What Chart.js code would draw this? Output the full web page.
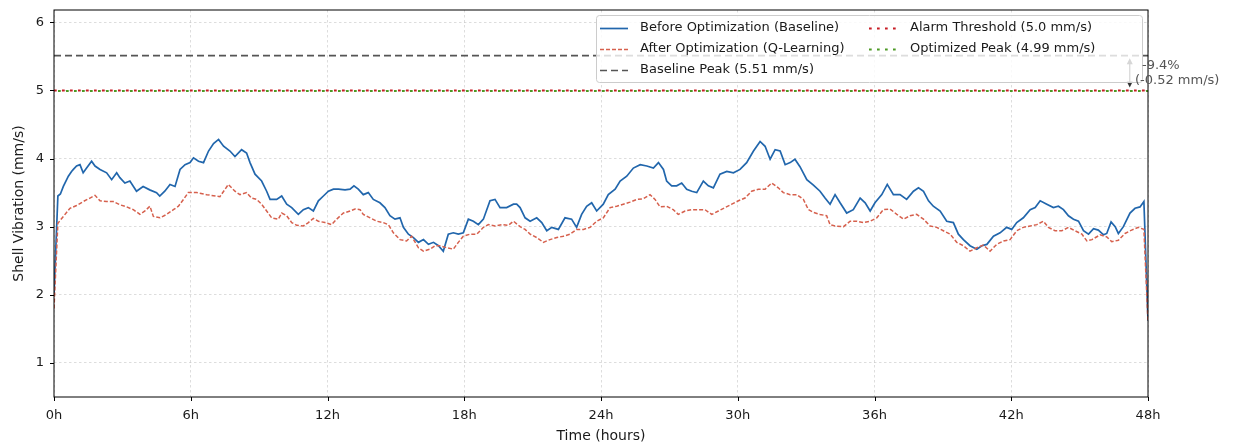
<!DOCTYPE html>
<html>
<head>
<meta charset="utf-8">
<script src="https://cdn.jsdelivr.net/npm/chart.js@4.4.1/dist/chart.umd.min.js"></script>
<style>
  html, body { margin: 0; padding: 0; background: #ffffff; }
  #wrap { width: 1233px; height: 444px; }
</style>
</head>
<body>
<div id="wrap"><canvas id="chart" width="1233" height="444"></canvas></div>
<script>
// Shell vibration over a 48 h run, sampled along the record (hours, mm/s)
const beforeTimes = [
  0.00, 0.17, 0.28, 0.41, 0.63, 0.77, 0.85, 0.99, 1.14, 1.28, 1.43, 1.65, 1.80, 2.02, 2.31, 2.53, 2.75, 2.89,
  3.11, 3.33, 3.62, 3.91, 4.20, 4.50, 4.64, 4.86, 5.09, 5.31, 5.53, 5.75, 5.97, 6.12, 6.34, 6.56, 6.78, 7.00,
  7.22, 7.44, 7.72, 7.94, 8.23, 8.45, 8.60, 8.82, 9.11, 9.33, 9.48, 9.77, 9.99, 10.21, 10.43, 10.72, 10.94,
  11.16, 11.38, 11.60, 11.82, 12.04, 12.26, 12.48, 12.77, 12.99, 13.16, 13.35, 13.57, 13.79, 14.01, 14.30,
  14.52, 14.74, 14.96, 15.18, 15.33, 15.55, 15.77, 15.99, 16.21, 16.43, 16.65, 16.87, 17.08, 17.30, 17.52,
  17.74, 17.96, 18.18, 18.40, 18.62, 18.84, 19.13, 19.35, 19.57, 19.86, 20.16, 20.30, 20.45, 20.67, 20.89,
  21.18, 21.40, 21.62, 21.84, 22.13, 22.42, 22.71, 22.93, 23.15, 23.37, 23.59, 23.81, 24.10, 24.32, 24.62,
  24.84, 25.13, 25.42, 25.72, 26.01, 26.30, 26.52, 26.74, 26.88, 27.10, 27.32, 27.54, 27.76, 27.98, 28.20,
  28.49, 28.71, 28.93, 29.22, 29.52, 29.81, 30.10, 30.39, 30.69, 30.98, 31.20, 31.42, 31.64, 31.86, 32.08,
  32.30, 32.51, 32.73, 33.03, 33.32, 33.61, 33.83, 34.05, 34.27, 34.49, 34.78, 35.07, 35.37, 35.59, 35.81,
  36.02, 36.32, 36.56, 36.83, 37.12, 37.41, 37.71, 37.93, 38.15, 38.37, 38.58, 38.88, 39.17, 39.46, 39.68,
  39.90, 40.19, 40.49, 40.71, 40.93, 41.22, 41.51, 41.80, 42.02, 42.24, 42.53, 42.83, 43.05, 43.27, 43.56,
  43.85, 44.07, 44.29, 44.51, 44.73, 44.95, 45.17, 45.39, 45.61, 45.82, 46.05, 46.19, 46.38, 46.56, 46.70,
  46.92, 47.21, 47.43, 47.65, 47.82, 48.00
];
const beforeVals = [
  2.00, 3.45, 3.48, 3.59, 3.74, 3.81, 3.84, 3.89, 3.91, 3.79, 3.86, 3.96, 3.89, 3.84, 3.79, 3.69, 3.79, 3.72,
  3.64, 3.67, 3.52, 3.59, 3.54, 3.50, 3.45, 3.52, 3.62, 3.59, 3.84, 3.91, 3.94, 4.01, 3.96, 3.94, 4.11, 4.22,
  4.28, 4.18, 4.11, 4.03, 4.13, 4.08, 3.94, 3.77, 3.67, 3.52, 3.40, 3.40, 3.45, 3.33, 3.28, 3.18, 3.25,
  3.28, 3.23, 3.38, 3.45, 3.52, 3.55, 3.55, 3.54, 3.55, 3.60, 3.55, 3.47, 3.50, 3.40, 3.35,
  3.28, 3.16, 3.11, 3.13, 2.99, 2.89, 2.84, 2.77, 2.81, 2.74, 2.77, 2.72, 2.64, 2.89, 2.91,
  2.89, 2.91, 3.11, 3.08, 3.03, 3.11, 3.38, 3.40, 3.28, 3.28, 3.33, 3.33, 3.28, 3.13, 3.08,
  3.13, 3.06, 2.94, 2.99, 2.96, 3.13, 3.11, 2.99, 3.18, 3.30, 3.35, 3.23, 3.33, 3.47, 3.55,
  3.67, 3.74, 3.86, 3.91, 3.89, 3.86, 3.94, 3.84, 3.67, 3.60, 3.60, 3.64, 3.55, 3.52, 3.50,
  3.67, 3.60, 3.57, 3.77, 3.81, 3.79, 3.84, 3.94, 4.11, 4.25, 4.18, 3.99, 4.13, 4.11, 3.91,
  3.94, 3.99, 3.88, 3.69, 3.61, 3.52, 3.42, 3.33, 3.47, 3.35, 3.20, 3.25, 3.42, 3.35, 3.23,
  3.35, 3.47, 3.62, 3.47, 3.47, 3.40, 3.52, 3.57, 3.52, 3.38, 3.30, 3.23, 3.08, 3.06, 2.89,
  2.81, 2.72, 2.67, 2.72, 2.74, 2.86, 2.91, 2.99, 2.96, 3.06, 3.13, 3.25, 3.28, 3.38, 3.33,
  3.28, 3.30, 3.25, 3.16, 3.11, 3.08, 2.94, 2.89, 2.97, 2.95, 2.88, 2.90, 3.07, 3.00, 2.90,
  3.00, 3.20, 3.27, 3.29, 3.37, 1.62
];
const afterTimes = [
  0.00, 0.17, 0.41, 0.70, 0.99, 1.29, 1.58, 1.80, 2.02, 2.31, 2.60, 2.90, 3.19, 3.48, 3.77, 3.99, 4.21, 4.36,
  4.65, 4.94, 5.24, 5.46, 5.68, 5.89, 6.26, 6.70, 7.28, 7.65, 7.94, 8.16, 8.45, 8.67, 8.89, 9.11, 9.33, 9.55,
  9.84, 9.99, 10.21, 10.43, 10.65, 10.94, 11.16, 11.38, 11.60, 11.89, 12.18, 12.40, 12.70, 12.99, 13.21,
  13.43, 13.57, 13.87, 14.16, 14.45, 14.67, 14.89, 15.18, 15.47, 15.69, 15.99, 16.21, 16.50, 16.72, 16.94,
  17.23, 17.52, 17.74, 17.96, 18.25, 18.55, 18.84, 19.06, 19.35, 19.64, 19.94, 20.16, 20.45, 20.67, 20.89,
  21.18, 21.47, 21.76, 22.06, 22.35, 22.64, 22.93, 23.23, 23.52, 23.81, 24.10, 24.40, 24.69, 24.98, 25.27,
  25.57, 25.86, 26.15, 26.37, 26.59, 26.88, 27.17, 27.39, 27.69, 27.98, 28.27, 28.56, 28.86, 29.15, 29.44,
  29.74, 30.03, 30.32, 30.61, 30.91, 31.20, 31.49, 31.78, 32.00, 32.30, 32.59, 32.88, 33.10, 33.32, 33.61,
  33.90, 34.05, 34.27, 34.64, 34.93, 35.22, 35.52, 35.81, 36.10, 36.39, 36.68, 36.98, 37.27, 37.56, 37.85,
  38.15, 38.44, 38.73, 39.02, 39.32, 39.61, 39.90, 40.19, 40.49, 40.78, 41.07, 41.36, 41.66, 41.95, 42.24,
  42.53, 42.83, 43.12, 43.41, 43.63, 43.92, 44.22, 44.51, 44.80, 45.10, 45.32, 45.54, 45.90, 46.19, 46.41,
  46.70, 46.99, 47.28, 47.58, 47.82, 48.00
];
const afterVals = [
  1.80, 3.05, 3.15, 3.27, 3.31, 3.37, 3.42, 3.46, 3.38, 3.37, 3.37, 3.32, 3.29, 3.25, 3.18, 3.23, 3.30, 3.15,
  3.13, 3.18, 3.25, 3.30, 3.40, 3.50, 3.50, 3.47, 3.44, 3.62, 3.52, 3.47, 3.50, 3.42, 3.40, 3.33, 3.23, 3.13,
  3.11, 3.20, 3.16, 3.06, 3.02, 3.01, 3.06, 3.12, 3.08, 3.06, 3.03, 3.11, 3.20, 3.23, 3.26,
  3.25, 3.18, 3.13, 3.08, 3.06, 3.03, 2.91, 2.81, 2.79, 2.86, 2.69, 2.64, 2.67, 2.72, 2.72,
  2.69, 2.67, 2.77, 2.86, 2.89, 2.89, 2.99, 3.03, 3.01, 3.03, 3.02, 3.08, 3.00, 2.96, 2.89,
  2.84, 2.77, 2.81, 2.84, 2.86, 2.89, 2.96, 2.96, 2.99, 3.08, 3.13, 3.28, 3.30, 3.33, 3.36,
  3.40, 3.41, 3.47, 3.40, 3.29, 3.30, 3.25, 3.18, 3.23, 3.25, 3.25, 3.25, 3.18, 3.23, 3.28,
  3.33, 3.38, 3.42, 3.52, 3.55, 3.55, 3.64, 3.57, 3.50, 3.47, 3.47, 3.40, 3.25, 3.21, 3.18,
  3.16, 3.03, 3.01, 3.00, 3.08, 3.08, 3.06, 3.08, 3.13, 3.25, 3.26, 3.18, 3.11, 3.16, 3.18,
  3.11, 3.01, 2.99, 2.94, 2.89, 2.77, 2.72, 2.64, 2.69, 2.73, 2.64, 2.74, 2.79, 2.81, 2.94,
  2.99, 3.01, 3.03, 3.08, 2.99, 2.94, 2.94, 2.99, 2.94, 2.89, 2.79, 2.81, 2.88, 2.85, 2.78,
  2.80, 2.90, 2.95, 2.99, 2.96, 1.60
];

// Reference levels (mm/s)
const ALARM_LEVEL = 5.0;
const BASELINE_PEAK = 5.51;
const OPTIMIZED_PEAK = 4.99;

// Axis ticks
const xTicks = [0, 6, 12, 18, 24, 30, 36, 42, 48];
const yTicks = [1, 2, 3, 4, 5, 6];

const FONT = "'DejaVu Sans', 'Liberation Sans', sans-serif";
const toPoints = (ts, vs) => ts.map((t, i) => ({ x: t, y: vs[i] }));
const flatLine = (v) => [{ x: xTicks[0], y: v }, { x: xTicks[xTicks.length - 1], y: v }];

const peakDrop = OPTIMIZED_PEAK - BASELINE_PEAK;
const peakDropPct = peakDrop / BASELINE_PEAK * 100;

// Keep the plot box fixed: no extra room reserved for edge tick labels
const noEdgePadding = (s) => {
  s.paddingTop = 0; s.paddingBottom = 0; s.paddingLeft = 0; s.paddingRight = 0;
};

// Frame (all four spines) and outward tick marks
const framePlugin = {
  id: 'frame',
  afterDatasetsDraw(chart) {
    const { ctx, chartArea: a, scales } = chart;
    ctx.save();
    ctx.strokeStyle = '#000';
    ctx.lineWidth = 1;
    ctx.strokeRect(a.left, a.top, a.right - a.left, a.bottom - a.top);
    ctx.beginPath();
    xTicks.forEach(v => {
      const px = Math.round(scales.x.getPixelForValue(v)) + 0.5;
      ctx.moveTo(px, a.bottom);
      ctx.lineTo(px, a.bottom + 4);
    });
    yTicks.forEach(v => {
      const py = Math.round(scales.y.getPixelForValue(v)) + 0.5;
      ctx.moveTo(a.left - 4, py);
      ctx.lineTo(a.left, py);
    });
    ctx.stroke();
    ctx.restore();
  }
};

// Peak-reduction arrow, two-column legend and the reduction label
const overlayPlugin = {
  id: 'overlay',
  afterDraw(chart) {
    const { ctx, scales } = chart;
    const xs = scales.x, ys = scales.y;

    // double-headed arrow between the two peaks
    const ax = xs.getPixelForValue(47.2);
    const yTop = ys.getPixelForValue(BASELINE_PEAK) + 2.5;
    const yBot = ys.getPixelForValue(OPTIMIZED_PEAK) - 3.5;
    ctx.save();
    ctx.strokeStyle = '#333';
    ctx.fillStyle = '#333';
    ctx.lineWidth = 1.2;
    ctx.beginPath();
    ctx.moveTo(ax, yTop + 4);
    ctx.lineTo(ax, yBot - 4);
    ctx.stroke();
    ctx.beginPath();
    ctx.moveTo(ax, yTop); ctx.lineTo(ax - 3, yTop + 6); ctx.lineTo(ax + 3, yTop + 6); ctx.closePath();
    ctx.fill();
    ctx.beginPath();
    ctx.moveTo(ax, yBot); ctx.lineTo(ax - 3, yBot - 6); ctx.lineTo(ax + 3, yBot - 6); ctx.closePath();
    ctx.fill();
    ctx.restore();

    // legend box
    const box = { x: 596.5, y: 15.5, w: 546, h: 67, r: 3 };
    ctx.save();
    ctx.beginPath();
    ctx.roundRect(box.x, box.y, box.w, box.h, box.r);
    ctx.fillStyle = 'rgba(255,255,255,0.8)';
    ctx.fill();
    ctx.strokeStyle = '#cccccc';
    ctx.lineWidth = 1;
    ctx.stroke();

    const columns = [
      { handleX: 600, textX: 640, items: [0, 1, 2] },
      { handleX: 869, textX: 910, items: [3, 4] }
    ];
    const rowY = [27.5, 48.5, 70];
    ctx.font = '13px ' + FONT;
    ctx.textBaseline = 'middle';
    ctx.textAlign = 'left';
    columns.forEach(col => {
      col.items.forEach((di, r) => {
        const ds = chart.data.datasets[di];
        const y = Math.round(rowY[r]) + 0.5;
        ctx.save();
        ctx.strokeStyle = ds.borderColor;
        ctx.lineWidth = ds.borderWidth;
        ctx.setLineDash(ds.borderDash || []);
        ctx.beginPath();
        ctx.moveTo(col.handleX, y);
        ctx.lineTo(col.handleX + 28, y);
        ctx.stroke();
        ctx.restore();
        ctx.fillStyle = '#1a1a1a';
        ctx.fillText(ds.label, col.textX, rowY[r]);
      });
    });

    // reduction label beside the arrow
    ctx.fillStyle = '#555555';
    ctx.font = '13px ' + FONT;
    ctx.fillText(peakDropPct.toFixed(1) + '%', 1142, 66);
    ctx.fillText('(' + peakDrop.toFixed(2) + ' mm/s)', 1135, 81);
    ctx.restore();
  }
};

new Chart(document.getElementById('chart'), {
  type: 'line',
  data: {
    datasets: [
      {
        label: 'Before Optimization (Baseline)',
        data: toPoints(beforeTimes, beforeVals),
        borderColor: '#2166ac', borderWidth: 1.7, pointRadius: 0, order: 4
      },
      {
        label: 'After Optimization (Q-Learning)',
        data: toPoints(afterTimes, afterVals),
        borderColor: '#d6604d', borderWidth: 1.5, borderDash: [4, 2], pointRadius: 0, order: 3
      },
      {
        label: 'Baseline Peak (' + BASELINE_PEAK.toFixed(2) + ' mm/s)',
        data: flatLine(BASELINE_PEAK),
        borderColor: '#555555', borderWidth: 1.6, borderDash: [7, 4], pointRadius: 0, order: 2
      },
      {
        label: 'Alarm Threshold (' + ALARM_LEVEL.toFixed(1) + ' mm/s)',
        data: flatLine(ALARM_LEVEL),
        borderColor: '#c81d25', borderWidth: 2, borderDash: [2.7, 5.3], pointRadius: 0, order: 1
      },
      {
        label: 'Optimized Peak (' + OPTIMIZED_PEAK.toFixed(2) + ' mm/s)',
        data: flatLine(OPTIMIZED_PEAK),
        borderColor: '#4d9a25', borderWidth: 2, borderDash: [2.7, 5.3], borderDashOffset: 4,
        pointRadius: 0, order: 0
      }
    ]
  },
  options: {
    responsive: false,
    devicePixelRatio: 1,
    animation: false,
    events: [],
    layout: { padding: { left: 0, right: 85, top: 10, bottom: 0 } },
    elements: { line: { tension: 0 } },
    plugins: {
      legend: { display: false },
      tooltip: { enabled: false }
    },
    scales: {
      x: {
        type: 'linear',
        min: 0, max: 48,
        afterBuildTicks: (s) => { s.ticks = xTicks.map(v => ({ value: v })); },
        afterFit: (s) => { s.height = 47; noEdgePadding(s); },
        grid: { color: 'rgba(0,0,0,0.17)', lineWidth: 0.8, drawTicks: false },
        border: { display: false, dash: [2.5, 2.5] },
        ticks: {
          autoSkip: false, maxRotation: 0, padding: 11,
          color: '#1a1a1a', font: { family: FONT, size: 13 },
          callback: (v) => v + 'h'
        },
        title: {
          display: true, text: 'Time (hours)', color: '#1a1a1a',
          font: { family: FONT, size: 14, lineHeight: 1.1 }, padding: { top: 0, bottom: 0 }
        }
      },
      y: {
        type: 'linear',
        min: 0.5, max: 6.18,
        afterBuildTicks: (s) => { s.ticks = yTicks.map(v => ({ value: v })); },
        afterFit: (s) => { s.width = 54; noEdgePadding(s); },
        grid: { color: 'rgba(0,0,0,0.17)', lineWidth: 0.8, drawTicks: false },
        border: { display: false, dash: [2.5, 2.5] },
        ticks: {
          padding: 10, color: '#1a1a1a', font: { family: FONT, size: 13 }
        },
        title: {
          display: true, text: 'Shell Vibration (mm/s)', color: '#1a1a1a',
          font: { family: FONT, size: 14 }, padding: { top: 11, bottom: 0 }
        }
      }
    }
  },
  plugins: [framePlugin, overlayPlugin]
});
</script>
</body>
</html>
